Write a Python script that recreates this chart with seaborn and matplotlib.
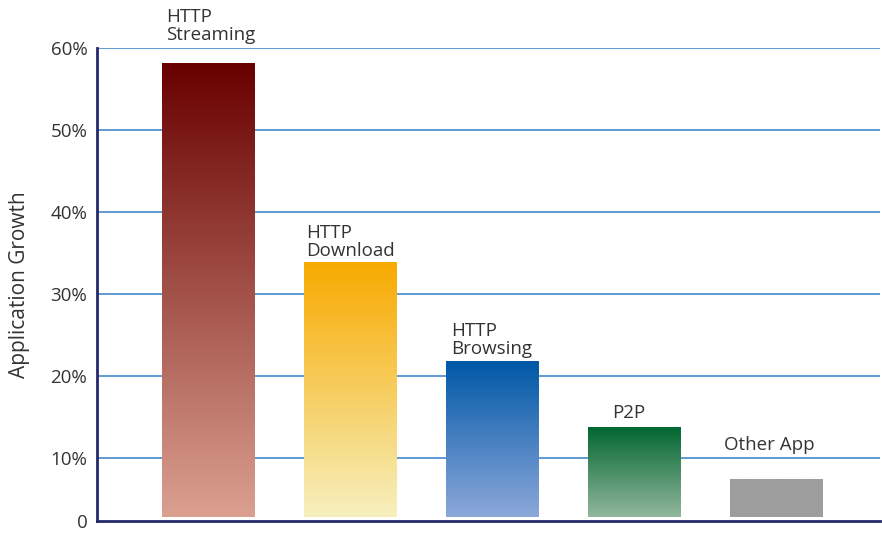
import numpy as np
import pandas as pd
import matplotlib
matplotlib.use("Agg")
import matplotlib.pyplot as plt
import seaborn as sns
from matplotlib.colors import LinearSegmentedColormap

categories = ["HTTP\nStreaming", "HTTP\nDownload", "HTTP\nBrowsing", "P2P", "Other App"]
growth = [58.2, 33.9, 21.8, 13.8, 7.4]
tick_values = [2.3, 10, 20, 30, 40, 50, 60]
tick_labels = ["0", "10%", "20%", "30%", "40%", "50%", "60%"]
top_colors = ["#680000", "#f8aa00", "#0058a6", "#006630", "#9e9e9e"]
bottom_colors = ["#dba090", "#f6f0be", "#8ca8da", "#92b79c", "#9e9e9e"]
label_dx = [4, 2, 5, 24, -6]      # pixel offsets of labels from bar left edge
label_dy = [19, 2, 3, 5, 25]

sns.set_theme(style="white")
plt.rcParams["font.family"] = ["Open Sans", "DejaVu Sans"]

fig = plt.figure(figsize=(8.82, 5.33), dpi=100)
ax = fig.add_axes([0.110, 0.0225, 0.888, 0.8875])

df = pd.DataFrame({"cat": categories, "val": growth})
sns.barplot(data=df, x="cat", y="val", ax=ax, width=0.65, color="#999999",
            zorder=3, saturation=1)

ax.set_ylim(2.3, 60)
ax.set_xlim(-0.78, 4.73)
ax.set_yticks(tick_values)
ax.set_yticklabels(tick_labels, fontsize=13.5, color="#333333")
ax.set_xticks([])
ax.set_xlabel("")
ax.set_ylabel("Application Growth", fontsize=15, color="#333333")
ax.yaxis.set_label_coords(-0.085, 0.5)
ax.tick_params(axis="y", length=0, pad=7)

for v in tick_values[1:]:
    ax.axhline(v, color="#5d9bd3", lw=1.4, zorder=1)

for s in ["top", "right"]:
    ax.spines[s].set_visible(False)
for s in ["left", "bottom"]:
    ax.spines[s].set_color("#25286a")
    ax.spines[s].set_linewidth(2)
    ax.spines[s].set_zorder(5)

for i, p in enumerate(ax.patches):
    x0, w = p.get_x(), p.get_width()
    h = p.get_height()
    p.set_y(2.8)
    p.set_height(h - 2.8)
    cmap = LinearSegmentedColormap.from_list("g", [bottom_colors[i], top_colors[i]])
    grad = np.linspace(0, 1, 256).reshape(-1, 1)
    im = ax.imshow(grad, extent=[x0, x0 + w, 2.8, h], origin="lower",
                   aspect="auto", cmap=cmap, zorder=3)
    im.set_clip_path(p)
    p.set_facecolor("none")
    p.set_edgecolor("none")
    ax.annotate(categories[i], xy=(x0, h), xytext=(label_dx[i], label_dy[i]),
                textcoords="offset pixels", ha="left", va="bottom",
                fontsize=13.5, color="#333333", linespacing=1.0,
                annotation_clip=False)

ax.set_xlim(-0.78, 4.73)
ax.set_ylim(2.3, 60)
fig.savefig("out.png", dpi=100)
